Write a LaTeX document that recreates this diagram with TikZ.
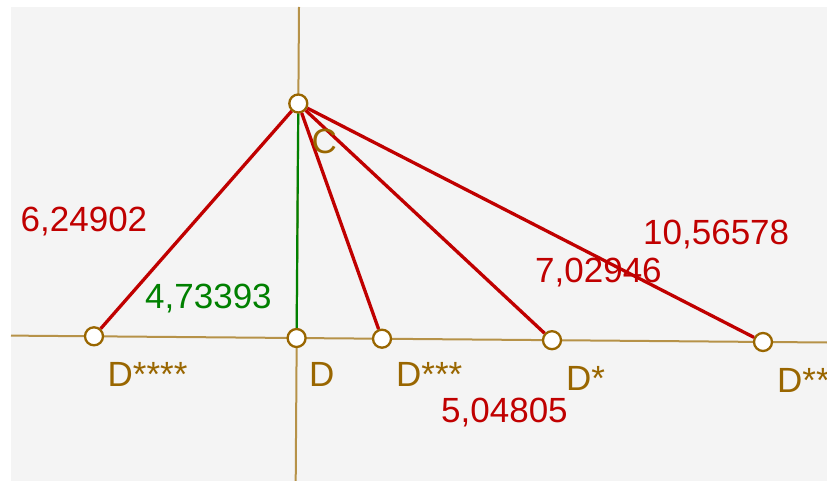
\documentclass[tikz,border=0pt]{standalone}
\usepackage{fontspec}
\setmainfont{Liberation Sans}

\definecolor{canvas}{RGB}{244,244,244}
\definecolor{axisbrown}{RGB}{182,146,72}
\definecolor{ptbrown}{RGB}{153,102,0}
\definecolor{segred}{RGB}{192,0,0}
\definecolor{seggreen}{RGB}{0,128,0}

\begin{document}
\begin{tikzpicture}[x=1pt, y=-1pt,
        axis/.style={draw=axisbrown, line width=2pt},
        seg/.style={draw=segred, line width=3.3pt},
        altitude/.style={draw=seggreen, line width=2.2pt},
        pt/.style={circle, draw=ptbrown, fill=white, line width=2.3pt,
                   minimum size=18pt, inner sep=0pt},
        lbl/.style={anchor=base west, inner sep=0pt,
                    font=\fontsize{35}{40}\selectfont},
        ptlbl/.style={lbl, text=ptbrown},
        lenlbl/.style={lbl, text=segred},
    ]
    % frame and canvas
    \useasboundingbox (0,0) rectangle (827,481);
    \clip (0,0) rectangle (827,481);
    \fill[canvas] (11,7) rectangle (827,481);

    % the two axes
    \coordinate (xl) at (11,335.6);
    \coordinate (xr) at (827,342.5);
    \coordinate (yt) at (299,7);
    \coordinate (yb) at (295.7,481);
    \draw[axis] (xl) -- (xr);
    \draw[axis] (yt) -- (yb);

    % points
    \node[pt] (C)  at (298.3,103.5) {};
    \node[pt] (D)  at (296.6,338)   {};
    \node[pt] (D4) at (94,336.3)    {};
    \node[pt] (D3) at (382,338.7)   {};
    \node[pt] (D1) at (552,340.2)   {};
    \node[pt] (D2) at (763,342)     {};

    % segments from C
    \draw[altitude] (C) -- (D);
    \draw[seg] (C) -- (D4);
    \draw[seg] (C) -- (D3);
    \draw[seg] (C) -- (D1);
    \draw[seg] (C) -- (D2);

    % point labels
    \node[ptlbl] (lC)  at (311.5,154) {C};
    \node[ptlbl] (lD4) at (107.5,386) {D****};
    \node[ptlbl] (lD)  at (309,386)   {D};
    \node[ptlbl] (lD3) at (396,386)   {D***};
    \node[ptlbl] (lD1) at (566,390)   {D*};
    \node[ptlbl] (lD2) at (777,392)   {D**};

    % lengths
    \node[lenlbl] (len4) at (20.5,232)  {6,24902};
    \node[lbl, text=seggreen] (len0) at (145,308) {4,73393};
    \node[lenlbl] (len2) at (643,244) {10,56578};
    \node[lenlbl] (len1) at (535,282) {7,02946};
    \node[lenlbl] (len3) at (441,422) {5,04805};
\end{tikzpicture}
\end{document}
